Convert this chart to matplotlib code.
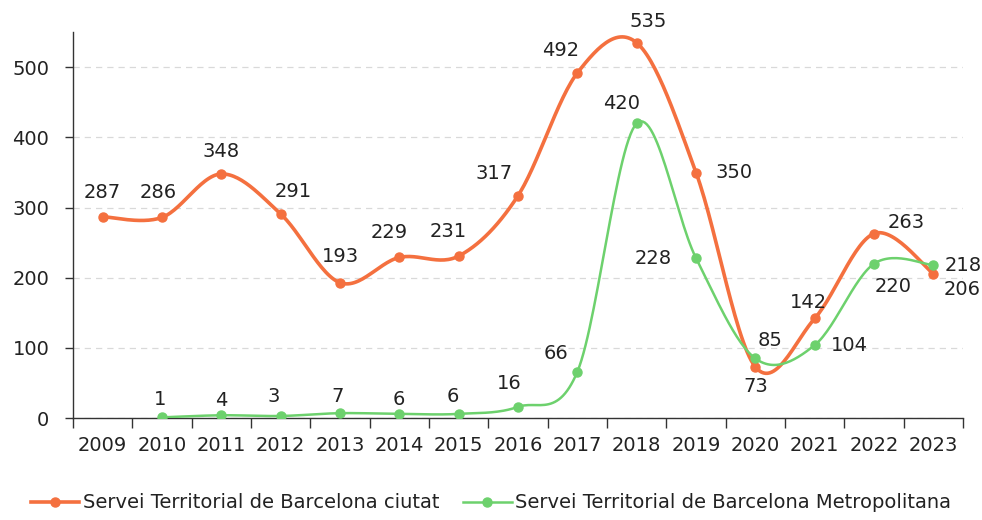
import matplotlib
matplotlib.use("Agg")
import matplotlib.pyplot as plt
import numpy as np

# dades
anys = ["2009", "2010", "2011", "2012", "2013", "2014", "2015", "2016",
        "2017", "2018", "2019", "2020", "2021", "2022", "2023"]
ciutat = [287, 286, 348, 291, 193, 229, 231, 317, 492, 535, 350, 73, 142, 263, 206]
metropolitana = [None, 1, 4, 3, 7, 6, 6, 16, 66, 420, 228, 85, 104, 220, 218]

nom_ciutat = "Servei Territorial de Barcelona ciutat"
nom_metro = "Servei Territorial de Barcelona Metropolitana"

# desplaçament de les etiquetes (pixels)
off_ciutat = [(0, 24), (-4, 25), (0, 22), (13, 22), (0, 26), (-10, 25), (-10, 25),
              (-24, 22), (-17, 22), (12, 21), (38, 0), (0, -20), (-6, 16),
              (32, 11), (29, -16)]
off_metro = [None, (-2, 18), (0, 15), (-7, 19), (-2, 17), (-1, 14), (-6, 17),
             (-9, 23), (-21, 18), (-15, 20), (-43, 0), (15, 18), (35, 0),
             (19, -23), (30, 0)]

color_ciutat = "#F4703F"
color_metro = "#6DD16D"

plt.rcParams['font.family'] = ['DejaVu Sans']
fs = 14


def suavitza(x, y, n=30):
    # corba tipus Excel: bezier amb punts de control catmull-rom
    x = np.asarray(x, float)
    y = np.asarray(y, float)
    px, py = [], []
    for i in range(len(x) - 1):
        x0, y0 = (x[i - 1], y[i - 1]) if i > 0 else (x[i], y[i])
        x3, y3 = (x[i + 2], y[i + 2]) if i + 2 < len(x) else (x[i + 1], y[i + 1])
        x1, y1 = x[i], y[i]
        x2, y2 = x[i + 1], y[i + 1]
        c1x, c1y = x1 + (x2 - x0) / 6, y1 + (y2 - y0) / 6
        c2x, c2y = x2 - (x3 - x1) / 6, y2 - (y3 - y1) / 6
        t = np.linspace(0, 1, n)
        px.append((1 - t) ** 3 * x1 + 3 * (1 - t) ** 2 * t * c1x + 3 * (1 - t) * t ** 2 * c2x + t ** 3 * x2)
        py.append((1 - t) ** 3 * y1 + 3 * (1 - t) ** 2 * t * c1y + 3 * (1 - t) * t ** 2 * c2y + t ** 3 * y2)
    return np.concatenate(px), np.concatenate(py)


fig = plt.figure(figsize=(9.82, 5.20), dpi=100)
ax = fig.add_axes([0.0743, 0.196, 0.9064, 0.742])

series = [(ciutat, color_ciutat, 2.6, nom_ciutat, off_ciutat),
          (metropolitana, color_metro, 1.8, nom_metro, off_metro)]

for vals, col, lw, nom, offs in series:
    xs = [i for i, v in enumerate(vals) if v is not None]
    ys = [v for v in vals if v is not None]
    sx, sy = suavitza(xs, ys)
    ax.plot(sx, sy, color=col, lw=lw, solid_capstyle='round', zorder=3)
    ax.plot(xs, ys, 'o', color=col, ms=6.5, zorder=4)
    for i, v in zip(xs, ys):
        ax.annotate(str(v), (i, v), xytext=offs[i], textcoords='offset pixels',
                    ha='center', va='center', fontsize=fs, color='#222222', zorder=5)

ax.set_xlim(-0.5, len(anys) - 0.5)
ax.set_ylim(0, 550)
ax.set_yticks(range(0, 501, 100))
ax.set_xticks(np.arange(-0.5, len(anys), 1))
ax.set_xticklabels([])
ax.set_xticks(range(len(anys)), minor=True)
ax.set_xticklabels(anys, minor=True)
ax.tick_params(axis='x', which='major', length=7, width=1, color='#333333')
ax.tick_params(axis='x', which='minor', length=0, pad=13, labelsize=fs, labelcolor='#222222')
ax.tick_params(axis='y', length=6, width=1, color='#333333', pad=11, labelsize=fs, labelcolor='#222222')

for s in ['top', 'right']:
    ax.spines[s].set_visible(False)
for s in ['left', 'bottom']:
    ax.spines[s].set_color('#333333')
    ax.spines[s].set_linewidth(1)

ax.yaxis.grid(True, color='#d9d9d9', linestyle=(0, (5, 4)), linewidth=0.9)
ax.set_axisbelow(True)
ax.set_facecolor('white')

h1 = plt.Line2D([], [], color=color_ciutat, lw=2.6, marker='o', ms=6.5)
h2 = plt.Line2D([], [], color=color_metro, lw=1.8, marker='o', ms=6.5)
fig.legend([h1, h2], [nom_ciutat, nom_metro], loc='center', ncol=2,
           bbox_to_anchor=(0.5, 1 - 503 / 520), frameon=False, fontsize=fs,
           handlelength=2.5, handletextpad=0.2, columnspacing=1.2, labelcolor='#222222')

fig.savefig("out.png", dpi=100)
